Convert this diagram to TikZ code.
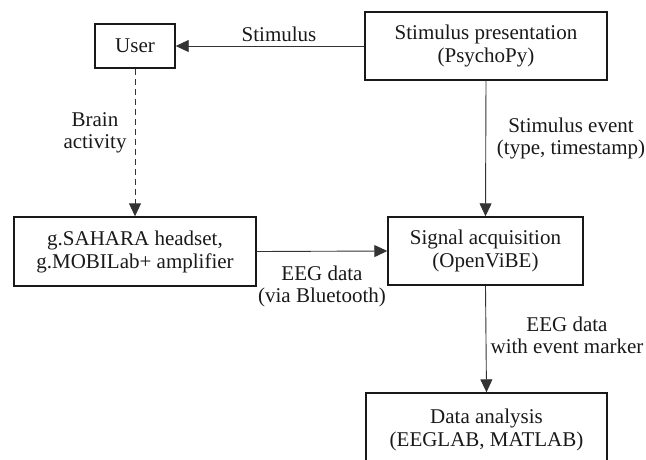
\documentclass[tikz,border=0pt]{standalone}
\usepackage{fontspec}
\setmainfont{Liberation Serif}
\usetikzlibrary{arrows.meta}
\begin{document}
\begin{tikzpicture}[x=1pt,y=-1pt,
  box/.style={draw=black!90,line width=1.4pt,align=center,inner sep=0pt,text=black!90,font=\fontsize{21}{23}\selectfont},
  lbl/.style={align=center,inner sep=0pt,font=\fontsize{21}{22}\selectfont,text=black!90},
  conn/.style={draw=black!80,line width=0.9pt,-{Triangle[length=13pt,width=12pt]}}]
\useasboundingbox (0,0) rectangle (646,459);
\clip (0,0) rectangle (646,459);
\node[box,minimum width=80pt,minimum height=44pt] (user) at (135,46) {User};
\node[box,minimum width=242pt,minimum height=68pt] (stim) at (486,46) {Stimulus presentation\\(PsychoPy)};
\node[box,minimum width=242pt,minimum height=69pt] (sahara) at (135,251.5) {g.SAHARA headset,\\g.MOBILab+ amplifier};
\node[box,minimum width=195pt,minimum height=68pt] (sig) at (485.5,251) {Signal acquisition\\(OpenViBE)};
\node[box,minimum width=241pt,minimum height=74pt] (data) at (486.5,430) {Data analysis\\(EEGLAB, MATLAB)};
\draw[conn] (stim.west) -- (user.east);
\draw[conn,dashed,dash pattern=on 6pt off 4pt] (user.south) -- (sahara.north);
\draw[conn] (sahara.east) -- (sig.west);
\draw[conn] (stim.south) -- (sig.north);
\draw[conn] (sig.south) -- (data.north);
\node[lbl] (l1) at (279,34) {Stimulus};
\node[lbl] (l2) at (95,133) {Brain\\activity};
\node[lbl] (l3) at (571,138) {Stimulus event\\(type, timestamp)};
\node[lbl] (l4) at (322,286) {EEG data\\(via Bluetooth)};
\node[lbl] (l5) at (567,335) {EEG data\\with event marker};
\end{tikzpicture}
\end{document}
